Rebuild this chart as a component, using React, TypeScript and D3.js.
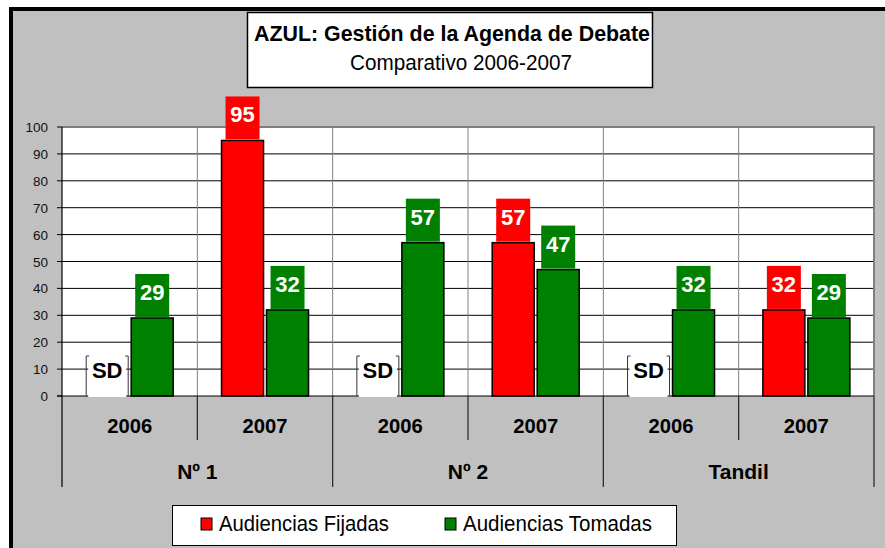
import React from "react";
import * as d3 from "d3";

// data
const groups = ["Nº 1", "Nº 2", "Tandil"];
const years = ["2006", "2007"];
const fijadas: (number | null)[] = [null, 95, null, 57, null, 32]; // null = SD
const tomadas: number[] = [29, 32, 57, 47, 32, 29];
const seriesNames = ["Audiencias Fijadas", "Audiencias Tomadas"];
const seriesColors = ["#FF0000", "#008000"];
const yTicks = [0, 10, 20, 30, 40, 50, 60, 70, 80, 90, 100];

const FONT = "'Liberation Sans', Arial, sans-serif";

const App = () => {
  const width = 885;
  const height = 548;
  const plot = { left: 62, right: 874, top: 127, bottom: 396 };

  const cols = groups.flatMap((g) => years.map((yr) => `${g}|${yr}`));

  const x0 = d3.scaleBand().domain(cols).range([plot.left, plot.right]);
  const colW = x0.bandwidth();
  const x1 = d3
    .scaleBand()
    .domain(["f", "t"])
    .range([24.2, 111.2])
    .paddingInner(3 / 45);
  const bw = x1.bandwidth();

  const y = d3.scaleLinear().domain([0, 100]).range([plot.bottom, plot.top]);

  const series = [
    { key: "f", values: fijadas, color: seriesColors[0] },
    { key: "t", values: tomadas, color: seriesColors[1] },
  ];

  return (
    <svg
      width={width}
      height={height}
      style={{ position: "absolute", left: 0, top: 0, background: "#fff" }}
      fontFamily={FONT}
    >
      {/* outer frame */}
      <rect x={11} y={9} width={1000} height={1000} fill="#C0C0C0" stroke="#000" strokeWidth={4} />

      {/* title */}
      <rect x={247.5} y={12.5} width={405} height={75} fill="#fff" stroke="#000" strokeWidth={1.5} />
      <text x={452} y={41} textAnchor="middle" fontSize={22} fontWeight="bold" textLength={396} lengthAdjust="spacingAndGlyphs">
        AZUL: Gestión de la Agenda de Debate
      </text>
      <text x={461} y={70} textAnchor="middle" fontSize={22} textLength={222} lengthAdjust="spacingAndGlyphs">
        Comparativo 2006-2007
      </text>

      {/* plot area */}
      <rect x={plot.left} y={plot.top} width={plot.right - plot.left} height={plot.bottom - plot.top} fill="#fff" />
      {yTicks.filter((t) => t > 0 && t < 100).map((t) => (
        <line key={t} x1={plot.left} x2={plot.right} y1={y(t)} y2={y(t)} stroke="#000" strokeWidth={1} />
      ))}
      {cols.slice(1).map((c) => (
        <line key={c} x1={x0(c)!} x2={x0(c)!} y1={plot.top} y2={plot.bottom} stroke="#808080" strokeWidth={1} />
      ))}
      <line x1={plot.left} x2={plot.right + 1} y1={plot.top} y2={plot.top} stroke="#808080" strokeWidth={2} />
      <line x1={plot.right} x2={plot.right} y1={plot.top} y2={plot.bottom} stroke="#808080" strokeWidth={2} />

      {/* y axis */}
      {yTicks.map((t) => (
        <g key={t}>
          <line x1={57} x2={plot.left} y1={y(t)} y2={y(t)} stroke="#000" />
          <text x={48} y={y(t) + 5} textAnchor="end" fontSize={13.5} fill="#111">
            {t}
          </text>
        </g>
      ))}

      {/* bars */}
      {series.map((s) =>
        s.values.map((v, i) => {
          const cx = x0(cols[i])! + x1(s.key)!;
          if (v === null) return null;
          return (
            <rect
              key={s.key + i}
              x={cx}
              y={y(v)}
              width={bw}
              height={plot.bottom - y(v)}
              fill={s.color}
              stroke="#000"
              strokeWidth={1.5}
            />
          );
        })
      )}

      {/* axis lines */}
      <line x1={plot.left} x2={plot.left} y1={plot.top} y2={487} stroke="#000" strokeWidth={1.2} />
      <line x1={57} x2={plot.right} y1={plot.bottom} y2={plot.bottom} stroke="#000" strokeWidth={1.2} />
      {cols.map((c, i) => {
        const xe = x0(c)! + colW;
        const isGroupEnd = i % years.length === years.length - 1;
        return (
          <line key={c} x1={xe} x2={xe} y1={plot.bottom} y2={isGroupEnd ? 487 : 440} stroke="#222" strokeWidth={1.2} />
        );
      })}

      {/* value labels */}
      {series.map((s) =>
        s.values.map((v, i) => {
          const cx = x0(cols[i])! + x1(s.key)! + bw / 2;
          if (v === null) {
            const top = 356;
            return (
              <g key={"l" + s.key + i}>
                <rect x={cx - 19} y={top} width={38} height={plot.bottom + 1 - top} fill="#fff" />
                <path d={`M${cx - 18},${top} h-3 V${plot.bottom}`} fill="none" stroke="#333" strokeWidth={1} />
                <path d={`M${cx + 18},${top} h3 V${plot.bottom}`} fill="none" stroke="#333" strokeWidth={1} />
                <text x={cx} y={378} textAnchor="middle" fontSize={22} fontWeight="bold" fill="#000">
                  SD
                </text>
              </g>
            );
          }
          const top = y(v);
          return (
            <g key={"l" + s.key + i}>
              <rect x={cx - 17} y={top - 44} width={34} height={43} fill={s.color} />
              <text x={cx} y={top - 18} textAnchor="middle" fontSize={22} fontWeight="bold" fill="#fff">
                {v}
              </text>
            </g>
          );
        })
      )}

      {/* category labels */}
      {cols.map((c) => (
        <text
          key={c}
          x={x0(c)! + colW / 2}
          y={433}
          textAnchor="middle"
          fontSize={21}
          fontWeight="bold"
          textLength={45}
          lengthAdjust="spacingAndGlyphs"
        >
          {c.split("|")[1]}
        </text>
      ))}
      {groups.map((g) => (
        <text
          key={g}
          x={x0(`${g}|${years[0]}`)! + colW}
          y={479}
          textAnchor="middle"
          fontSize={21}
          fontWeight="bold"
        >
          {g}
        </text>
      ))}

      {/* legend */}
      <rect x={172.5} y={505.5} width={504} height={40} fill="#fff" stroke="#000" strokeWidth={1} />
      {seriesNames.map((n, i) => {
        const lx = [201, 445][i];
        const tl = [170, 189][i];
        return (
          <g key={n}>
            <rect x={lx} y={518} width={11} height={12} fill={seriesColors[i]} stroke="#000" strokeWidth={1} />
            <text x={lx + 18} y={531} fontSize={22} textLength={tl} lengthAdjust="spacingAndGlyphs">
              {n}
            </text>
          </g>
        );
      })}
    </svg>
  );
};

export default App;
